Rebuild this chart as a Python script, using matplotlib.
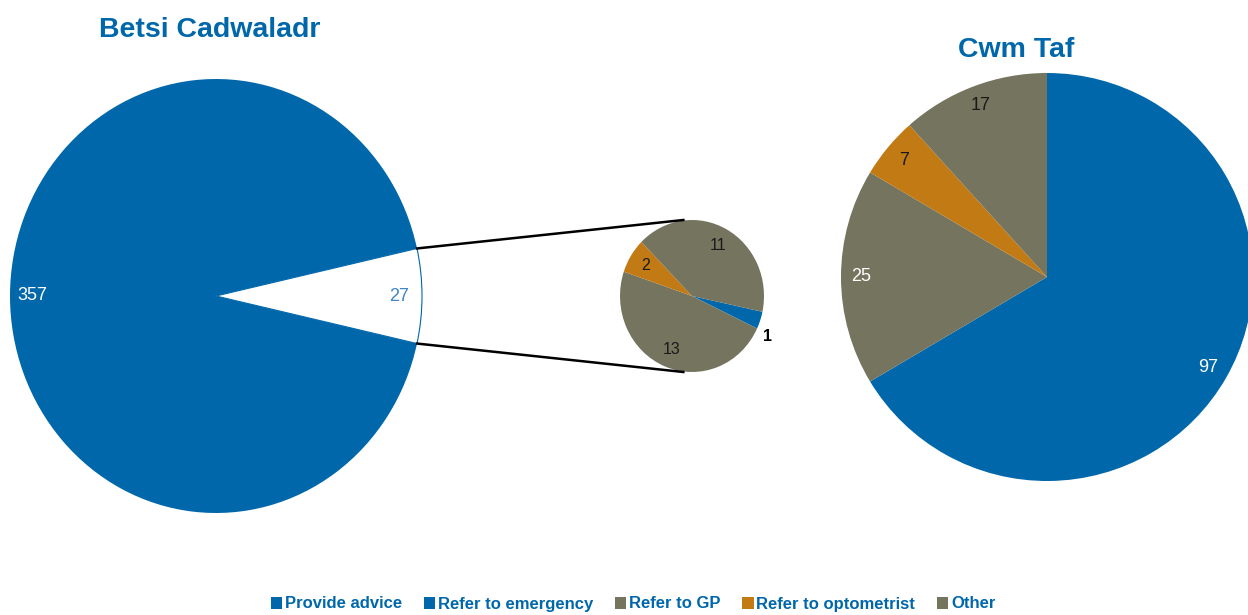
import matplotlib.pyplot as plt
from matplotlib.patches import Patch
import numpy as np

plt.rcParams['font.family'] = ['Liberation Sans', 'DejaVu Sans']

blue = "#0067ab"
gray = "#75745f"
orange = "#c17a14"

categories = ["Provide advice", "Refer to emergency", "Refer to GP",
              "Refer to optometrist", "Other"]
cat_colors = [blue, blue, gray, orange, gray]

# Betsi Cadwaladr: advice vs. the rest (split out in the small pie)
betsi_main = [357, 27]
betsi_rest_labels = ["Refer to emergency", "Refer to GP", "Refer to optometrist", "Other"]
betsi_rest = [1, 13, 2, 11]

# Cwm Taf
cwm_labels = ["Provide advice", "Refer to GP", "Refer to optometrist", "Other"]
cwm_values = [97, 25, 7, 17]


def px_axes(fig, cx, cy, rx, ry, W=1248, H=615):
    ax = fig.add_axes([(cx - rx) / W, (H - cy - ry) / H, 2 * rx / W, 2 * ry / H])
    return ax


def fmt(values):
    total = sum(values)
    return lambda p: f"{int(round(p * total / 100))}"


fig = plt.figure(figsize=(12.48, 6.15), dpi=100)

# big pie
ax1 = px_axes(fig, 216, 296, 206, 217)
half = betsi_main[1] / sum(betsi_main) * 360 / 2
w1, t1, a1 = ax1.pie(betsi_main, colors=[blue, "white"], startangle=-half,
                     counterclock=False, autopct=fmt(betsi_main), pctdistance=0.89,
                     wedgeprops=dict(linewidth=0),
                     textprops=dict(fontsize=13))
w1[1].set_edgecolor(blue)
w1[1].set_linewidth(0.8)
a1[0].set_color("white")
a1[1].set_color("#3f86c2")
ax1.set_aspect("auto")
ax1.set_xlim(-1, 1)
ax1.set_ylim(-1, 1)

# small pie
ax2 = px_axes(fig, 692, 296, 72, 76)
w2, t2, a2 = ax2.pie(betsi_rest, colors=[blue, gray, orange, gray], startangle=-12,
                     counterclock=False, autopct=fmt(betsi_rest), pctdistance=0.76,
                     wedgeprops=dict(linewidth=0),
                     textprops=dict(fontsize=11.5, color="#1a1a1a"))
ax2.set_aspect("auto")
ax2.set_xlim(-1, 1)
ax2.set_ylim(-1, 1)
# the tiny slice label sits outside
ang = np.deg2rad((w2[0].theta1 + w2[0].theta2) / 2)
a2[0].set_position((1.1 * np.cos(ang), 1.1 * np.sin(ang) - 0.18))
a2[0].set_fontweight("bold")
a2[0].set_color("black")

# connector lines between the wedge and the small pie
big = w1[1]
for th, ys in ((big.theta2, 1), (big.theta1, -1)):
    p0 = ax1.transData.transform((np.cos(np.deg2rad(th)), np.sin(np.deg2rad(th))))
    p1 = ax2.transData.transform((-0.12, ys))
    q0 = fig.transFigure.inverted().transform(p0)
    q1 = fig.transFigure.inverted().transform(p1)
    fig.add_artist(plt.Line2D([q0[0], q1[0]], [q0[1], q1[1]], color="black",
                              linewidth=1.8, transform=fig.transFigure))

# Cwm Taf pie
ax3 = px_axes(fig, 1047, 277, 206, 204)
w3, t3, a3 = ax3.pie(cwm_values, colors=[blue, gray, orange, gray], startangle=90,
                     counterclock=False, autopct=fmt(cwm_values), pctdistance=0.9,
                     wedgeprops=dict(linewidth=0),
                     textprops=dict(fontsize=13, color="#1a1a1a"))
a3[0].set_color("white")
a3[1].set_color("white")
ax3.set_aspect("auto")
ax3.set_xlim(-1, 1)
ax3.set_ylim(-1, 1)

fig.text(210 / 1248, 1 - 30 / 615, "Betsi Cadwaladr", ha="center", va="center",
         fontsize=20.5, fontweight="bold", color=blue)
fig.text(1016 / 1248, 1 - 50 / 615, "Cwm Taf", ha="center", va="center",
         fontsize=20.5, fontweight="bold", color=blue)

handles = [Patch(facecolor=c, edgecolor="none") for c in cat_colors]
fig.legend(handles, categories, loc="center", bbox_to_anchor=(633 / 1248, 1 - 604 / 615),
           ncol=5, frameon=False, handlelength=0.7, handleheight=0.7,
           handletextpad=0.15, columnspacing=1.3, borderaxespad=0,
           prop=dict(size=12, weight="bold"), labelcolor=blue)

fig.savefig("out.png", dpi=100)
